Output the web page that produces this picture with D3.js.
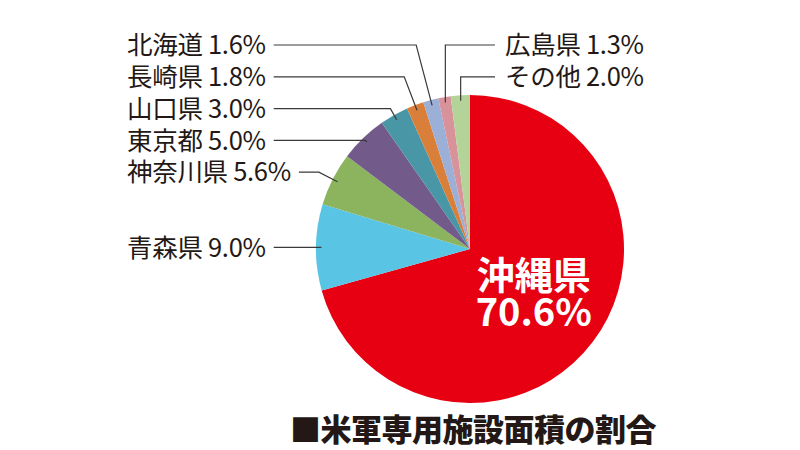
<!DOCTYPE html>
<html>
<head>
<meta charset="utf-8">
<script src="https://cdn.jsdelivr.net/npm/d3@7"></script>
<style>
  html, body { margin: 0; padding: 0; background: #fff; }
  svg { display: block; }
  text { font-family: "Noto Sans CJK JP", "Noto Sans", sans-serif; }
</style>
</head>
<body>
<svg id="chart" width="800" height="450"></svg>
<script>
// 米軍専用施設面積の割合 (clockwise from 12 o'clock)
const categories = ["沖縄県", "青森県", "神奈川県", "東京都", "山口県", "長崎県", "北海道", "広島県", "その他"]
const shares = [70.6, 9.0, 5.6, 5.0, 3.0, 1.8, 1.6, 1.3, 2.0]
const colours = ["#e60012", "#5ac4e4", "#8cb35e", "#725a8b", "#4996a7", "#da7f3a", "#9cafd7", "#d7929a", "#b4d398"]
const rightLabels = ["広島県", "その他"]
const title = "■米軍専用施設面積の割合"

const width = 800, height = 450
const cx = 470, cy = 249, radius = 154
const ink = "#231815"

const svg = d3.select("#chart")

const pie = d3.pie().sort(null).value((d) => d.value)
const slices = pie(categories.map((c, i) => ({ name: c, value: shares[i], colour: colours[i] })))

const arc = d3.arc().innerRadius(0).outerRadius(radius)
const anchorArc = d3.arc().innerRadius(radius * 0.965).outerRadius(radius * 0.965)
const innerArc = d3.arc().innerRadius(radius * 0.52).outerRadius(radius * 0.52)

const g = svg.append("g").attr("transform", `translate(${cx},${cy})`)

g.selectAll("path.slice")
    .data(slices)
    .join("path")
    .attr("class", "slice")
    .attr("fill", (d) => d.data.colour)
    .attr("d", arc)

// big label inside the first slice
const [ix, iy] = innerArc.centroid(slices[0])
const inner = g.append("text")
    .attr("text-anchor", "middle")
    .attr("fill", "#fff")
    .attr("font-weight", 700)
    .attr("font-size", 38)
inner.append("tspan").attr("x", ix).attr("y", iy - 22).attr("dy", "0.36em").text(slices[0].data.name)
inner.append("tspan").attr("x", ix).attr("y", iy + 15).attr("dy", "0.36em")
    .text(d3.format(".1f")(slices[0].data.value) + "%")

// outside labels
const labelSize = 25.5
const rowTop = 45, rowGap = 31.8
const leftX = 127, rightX = 505
const fmt = (d) => `${d.data.name} ${d3.format(".1f")(d.data.value)}%`

const outer = slices.slice(1)
const left = outer.filter((d) => !rightLabels.includes(d.data.name)).reverse()
const right = outer.filter((d) => rightLabels.includes(d.data.name))

const lines = svg.append("g")
    .attr("fill", "none")
    .attr("stroke", "#3a3a3a")
    .attr("stroke-width", 1.2)

const labels = svg.append("g")
    .attr("fill", ink)
    .attr("font-size", labelSize)

left.forEach((d, i) => {
    const [ax0, ay0] = anchorArc.centroid(d)
    const ax = cx + ax0, ay = cy + ay0
    const len = Math.hypot(ax0, ay0)
    const dirX = ax0 / len, dirY = ay0 / len
    // slices pointing sideways get a straight leader, the rest are stacked
    const y = Math.abs(dirY) < 0.2 ? ay : rowTop + i * rowGap
    const t = labels.append("text")
        .attr("x", leftX)
        .attr("y", y)
        .attr("dy", "0.36em")
        .attr("letter-spacing", -0.3)
        .text(fmt(d))
    const x0 = leftX + t.node().getComputedTextLength() + 8
    // extend radially from the slice until the row height
    const ex = Math.abs(dirY) < 0.2 ? ax : ax + dirX * (y - ay) / dirY
    lines.append("path").attr("d", d3.line()([[x0, y], [ex, y], [ax, ay]]))
})

right.forEach((d, i) => {
    const [ax0, ay0] = anchorArc.centroid(d)
    const ax = cx + ax0, ay = cy + ay0
    const y = rowTop + i * rowGap
    labels.append("text")
        .attr("x", rightX)
        .attr("y", y)
        .attr("dy", "0.36em")
        .attr("letter-spacing", -0.3)
        .text(fmt(d))
    lines.append("path").attr("d", d3.line()([[ax, ay], [ax, y], [rightX - 10, y]]))
})

svg.append("text")
    .attr("x", 290)
    .attr("y", 430)
    .attr("dy", "0.36em")
    .attr("fill", ink)
    .attr("font-size", 31)
    .attr("font-weight", 900)
    .attr("letter-spacing", -0.5)
    .text(title)
</script>
</body>
</html>
